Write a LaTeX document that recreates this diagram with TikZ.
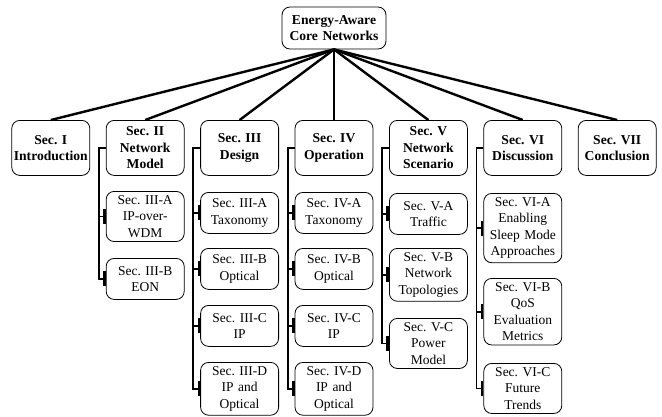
\documentclass[tikz,border=0pt]{standalone}
\usepackage{fontspec}
\setmainfont{Liberation Serif}
\usetikzlibrary{arrows.meta}

\tikzset{
  secbox/.style={draw, rounded corners=8pt, line width=0.8pt, align=center, text width=74pt, inner xsep=2pt, inner ysep=4pt, font=\fontsize{13.5}{16.5}\selectfont\frenchspacing},
  topbox/.style={secbox, minimum height=55pt, font=\bfseries\fontsize{13.6}{16.5}\selectfont\frenchspacing},
  subbox/.style={secbox, minimum height=41pt, anchor=north},
  trunk/.style={line width=2.4pt},
  branch/.style={line width=1.8pt, -{Bar[width=15pt,line width=2.6pt]}}
}

\begin{document}
\begin{tikzpicture}[x=1pt, y=1pt]
        \useasboundingbox (0,0) rectangle (662,-416);

        % Root of the survey
        \node[topbox, minimum height=42pt, text width=100pt] (root) at (334,-28) {Energy-Aware\\Core Networks};

        % Main sections
        \node[topbox, anchor=north] (intro)  at (50.8,-120)  {Sec. I\\Introduction};
        \node[topbox, anchor=north] (model)  at (145.2,-120) {Sec. II\\Network\\Model};
        \node[topbox, anchor=north] (design) at (239.6,-120) {Sec. III\\Design};
        \node[topbox, anchor=north] (oper)   at (334,-120)   {Sec. IV\\Operation};
        \node[topbox, anchor=north] (scen)   at (428.4,-120) {Sec. V\\Network\\Scenario};
        \node[topbox, anchor=north] (disc)   at (522.8,-120) {Sec. VI\\Discussion};
        \node[topbox, anchor=north] (concl)  at (617.2,-120) {Sec. VII\\Conclusion};

        \foreach \sec in {intro,model,design,oper,scen,disc,concl}
            \draw[trunk] (root.south) -- (\sec.north);

        % Network model subsections
        \node[subbox] (model1) at (145.2,-191) {Sec. III-A\\IP-over-\\WDM};
        \node[subbox] (model2) at (145.2,-258) {Sec. III-B\\EON};

        % Design subsections
        \node[subbox] (design1) at (239.6,-192) {Sec. III-A\\Taxonomy};
        \node[subbox] (design2) at (239.6,-248) {Sec. III-B\\Optical};
        \node[subbox] (design3) at (239.6,-305) {Sec. III-C\\IP};
        \node[subbox] (design4) at (239.6,-362) {Sec. III-D\\IP and\\Optical};

        % Operation subsections
        \node[subbox] (oper1) at (334,-192) {Sec. IV-A\\Taxonomy};
        \node[subbox] (oper2) at (334,-248) {Sec. IV-B\\Optical};
        \node[subbox] (oper3) at (334,-305) {Sec. IV-C\\IP};
        \node[subbox] (oper4) at (334,-362) {Sec. IV-D\\IP and\\Optical};

        % Network scenario subsections
        \node[subbox] (scen1) at (428.4,-193) {Sec. V-A\\Traffic};
        \node[subbox] (scen2) at (428.4,-248) {Sec. V-B\\Network\\Topologies};
        \node[subbox] (scen3) at (428.4,-318) {Sec. V-C\\Power\\Model};

        % Discussion subsections
        \node[subbox] (disc1) at (522.8,-193) {Sec. VI-A\\Enabling\\Sleep Mode\\Approaches};
        \node[subbox] (disc2) at (522.8,-278) {Sec. VI-B\\QoS\\Evaluation\\Metrics};
        \node[subbox] (disc3) at (522.8,-363) {Sec. VI-C\\Future\\Trends};

        % Side branches to the subsections
        \foreach \sub in {model1,model2}
            \draw[branch] (model.west) -- ++(-7,0) |- (\sub.west);
        \foreach \sub in {design1,design2,design3,design4}
            \draw[branch] (design.west) -- ++(-7,0) |- (\sub.west);
        \foreach \sub in {oper1,oper2,oper3,oper4}
            \draw[branch] (oper.west) -- ++(-7,0) |- (\sub.west);
        \foreach \sub in {scen1,scen2,scen3}
            \draw[branch] (scen.west) -- ++(-7,0) |- (\sub.west);
        \foreach \sub in {disc1,disc2,disc3}
            \draw[branch] (disc.west) -- ++(-7,0) |- (\sub.west);
    \end{tikzpicture}
\end{document}
